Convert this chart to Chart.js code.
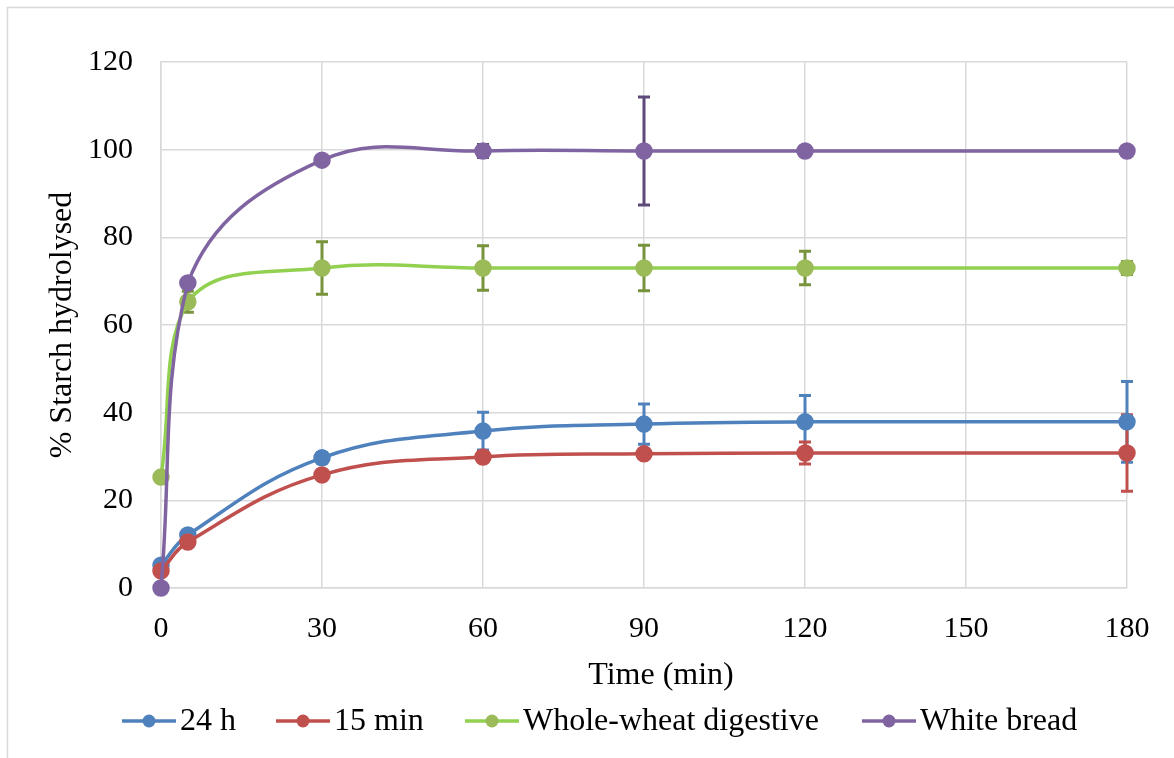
<!DOCTYPE html>
<html>
<head>
<meta charset="utf-8">
<script src="https://cdn.jsdelivr.net/npm/chart.js@4.4.0/dist/chart.umd.min.js"></script>
<style>
  html, body { margin: 0; padding: 0; background: #fff; }
  #wrap { width: 1174px; height: 758px; }
</style>
</head>
<body>
<div id="wrap"><canvas id="starchChart" width="1174" height="758"></canvas></div>
<script>
// sampling times (min)
let times = [0, 5, 30, 60, 90, 120, 180];
let xTicks = [0, 30, 60, 90, 120, 150, 180];

let seriesNames = ['24 h', '15 min', 'Whole-wheat digestive', 'White bread'];

let h24 = [5.2, 12.1, 29.7, 35.8, 37.4, 37.9, 37.9];
let h24Err = [0.8, 1.0, 1.2, 4.3, 4.6, 6.0, 9.2];

let min15 = [3.9, 10.5, 25.8, 29.9, 30.6, 30.8, 30.8];
let min15Err = [0.5, 0.8, 0.8, 0.6, 0.6, 2.5, 8.7];

let wholeWheat = [25.3, 65.3, 73.0, 73.0, 73.0, 73.0, 73.0];
let wholeWheatErr = [0, 2.4, 6.0, 5.1, 5.2, 3.8, 1.5];

let whiteBread = [0, 69.6, 97.6, 99.7, 99.7, 99.7, 99.7];
let whiteBreadErr = [0, 0.8, 0.6, 1.5, 12.3, 0.5, 0.5];

let lineColors = ['#4F81BD', '#C0504D', '#92D050', '#8064A2'];
let pointColors = ['#4F81BD', '#C0504D', '#9BBB59', '#8064A2'];
let errColors = ['#4F81BD', '#C0504D', '#77933C', '#5F497A'];

let allValues = [h24, min15, wholeWheat, whiteBread];
let allErrors = [h24Err, min15Err, wholeWheatErr, whiteBreadErr];

let serif = "'Liberation Serif', 'Times New Roman', serif";

let makeDataset = function (i) {
    return {
        label: seriesNames[i],
        data: times.map(function (t, j) { return { x: t, y: allValues[i][j] }; }),
        errors: allErrors[i],
        borderColor: lineColors[i],
        backgroundColor: pointColors[i],
        pointBackgroundColor: pointColors[i],
        pointBorderColor: pointColors[i],
        borderWidth: 3.5,
        pointRadius: 7,
        tension: 0.4,
        clip: false,
        order: 3 - i
    };
};

// vertical error bars with flat caps, drawn under the markers
let errorBars = {
    id: 'errorBars',
    beforeDatasetsDraw: function (chart) {
        let ctx = chart.ctx;
        let ys = chart.scales.y;
        chart.data.datasets.forEach(function (ds, i) {
            let meta = chart.getDatasetMeta(i);
            ctx.save();
            ctx.strokeStyle = errColors[i];
            ctx.lineWidth = 3;
            meta.data.forEach(function (pt, j) {
                let e = ds.errors[j];
                if (!e) return;
                let v = ds.data[j].y;
                let top = ys.getPixelForValue(v + e);
                let bot = ys.getPixelForValue(v - e);
                ctx.beginPath();
                ctx.moveTo(pt.x, top);
                ctx.lineTo(pt.x, bot);
                ctx.moveTo(pt.x - 6, top);
                ctx.lineTo(pt.x + 6, top);
                ctx.moveTo(pt.x - 6, bot);
                ctx.lineTo(pt.x + 6, bot);
                ctx.stroke();
            });
            ctx.restore();
        });
    }
};

// frame lines, x axis title and the legend row at the bottom
let frameAndLegend = {
    id: 'frameAndLegend',
    afterDraw: function (chart) {
        let ctx = chart.ctx;
        ctx.save();
        ctx.strokeStyle = '#D9D9D9';
        ctx.lineWidth = 1.5;
        ctx.beginPath();
        ctx.moveTo(7.5, 758);
        ctx.lineTo(7.5, 7.5);
        ctx.lineTo(1174, 7.5);
        ctx.stroke();

        ctx.font = '32px ' + serif;
        ctx.textBaseline = 'middle';
        ctx.textAlign = 'center';
        ctx.fillStyle = '#000';
        ctx.fillText('Time (min)', 661, 676);

        let starts = [122, 276, 465, 862];
        let y = 721;
        ctx.textAlign = 'left';
        starts.forEach(function (x0, i) {
            ctx.strokeStyle = lineColors[i];
            ctx.lineWidth = 3.5;
            ctx.beginPath();
            ctx.moveTo(x0, y);
            ctx.lineTo(x0 + 54, y);
            ctx.stroke();
            ctx.fillStyle = pointColors[i];
            ctx.beginPath();
            ctx.arc(x0 + 27, y, 6.5, 0, Math.PI * 2);
            ctx.fill();
            ctx.fillStyle = '#000';
            ctx.fillText(seriesNames[i], x0 + 58, y + 1);
        });
        ctx.restore();
    }
};

let starchChartDraw = function () {
    let ctx = document.getElementById('starchChart').getContext('2d');

    window.starchChart = new Chart(ctx, {
        type: 'line',
        data: { datasets: [0, 1, 2, 3].map(makeDataset) },
        options: {
            responsive: false,
            animation: false,
            layout: { padding: { top: 62, right: 47, bottom: 60, left: 0 } },
            plugins: {
                legend: { display: false },
                tooltip: { enabled: false }
            },
            scales: {
                x: {
                    type: 'linear',
                    min: 0,
                    max: 180,
                    afterBuildTicks: function (axis) {
                        axis.ticks = xTicks.map(function (v) { return { value: v }; });
                    },
                    afterFit: function (axis) { axis.height = 110; },
                    grid: { color: '#D9D9D9', lineWidth: 1.5, drawTicks: false },
                    border: { color: '#D9D9D9', width: 1.5 },
                    ticks: {
                        color: '#000',
                        padding: 23,
                        maxRotation: 0,
                        font: { family: serif, size: 30 }
                    },
                    title: { display: false }
                },
                y: {
                    min: 0,
                    max: 120,
                    afterFit: function (axis) { axis.width = 161; },
                    grid: { color: '#D9D9D9', lineWidth: 1.5, drawTicks: false },
                    border: { color: '#D9D9D9', width: 1.5 },
                    ticks: {
                        stepSize: 20,
                        color: '#000',
                        padding: 28,
                        font: { family: serif, size: 30 }
                    },
                    title: {
                        display: true,
                        text: '% Starch hydrolysed',
                        color: '#000',
                        padding: { top: 43, bottom: 0 },
                        font: { family: serif, size: 32 }
                    }
                }
            }
        },
        plugins: [errorBars, frameAndLegend]
    });
};

window.onload = function () {
    starchChartDraw();
};
</script>
</body>
</html>
